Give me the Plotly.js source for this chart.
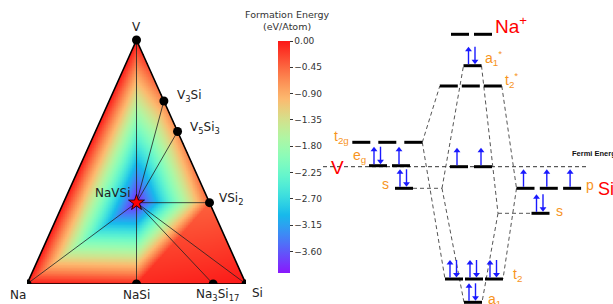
<!DOCTYPE html>
<html><head><meta charset="utf-8">
<script src="https://cdn.plot.ly/plotly-3.0.1.min.js"></script>
<style>html,body{margin:0;padding:0;background:#fff}#chart{width:613px;height:304px}</style>
</head><body><div id="chart"></div>
<script>
// ---------------- Ternary (Na-V-Si) phase diagram data ----------------
const phaseNames  = ['Na','V','Si','NaSi','Na3Si17','V3Si','V5Si3','VSi2','NaVSi'];
const phaseLabels = ['Na','V','Si','NaSi','Na<sub>3</sub>Si<sub>17</sub>','V<sub>3</sub>Si','V<sub>5</sub>Si<sub>3</sub>','VSi<sub>2</sub>','NaVSi'];
const fracNa = [1, 0, 0, 0.5, 0.15, 0, 0, 0, 1/3];
const fracV  = [0, 1, 0, 0, 0, 0.75, 0.625, 1/3, 1/3];
const fracSi = [0, 0, 1, 0.5, 0.85, 0.25, 0.375, 2/3, 1/3];
const formationEnergy = [0, 0, 0, -0.10, -0.04, -0.62, -0.66, -0.42, -3.97]; // eV/atom
const tieLineEnds = ['V','V3Si','V5Si3','VSi2','Si','Na3Si17','NaSi','Na']; // tie lines from NaVSi
const hullFacets = [['Na','V','NaVSi'],['V','V3Si','NaVSi'],['V3Si','V5Si3','NaVSi'],['V5Si3','VSi2','NaVSi'],
                    ['Na','NaSi','NaVSi'],['NaSi','VSi2','NaVSi'],['NaSi','Na3Si17','VSi2'],['Na3Si17','Si','VSi2']];
const colorbarTicks = [0, -0.45, -0.90, -1.35, -1.80, -2.25, -2.70, -3.15, -3.60];

// ---------------- Molecular-orbital level diagram data ----------------
// energies relative to the Fermi level (arbitrary units), column x in diagram units
const moLevelNames = ['Na+','a1*','t2*','t2g','eg','Vs','e','Sip','Sis','t2','a1'];
const moLevelX     = [14.15, 14.25, 14.08, 5.73, 5.95, 7.40, 14.10, 21.88, 21.05, 14.40, 14.30];
const moLevelE     = [13.24, 10.10, 8.07, 2.44, 0.10, -2.16, 0.00, -2.16, -4.66, -11.23, -13.56];
const moDegeneracy = [2, 1, 3, 3, 2, 1, 2, 3, 1, 3, 1];
const moElectrons  = [[0,0],[2],[0,0,0],[0,0,0],[2,1],[2],[1,1],[1,1,1],[2],[2,2,2],[2]];
const moExtension  = {Vs: 11.2, Sis: 16.8};   // dashed extension of atomic s levels
const moCorrelations = [['t2g','R','t2*','L'],['t2g','R','t2','L'],['Vs','R','Vs','X'],['Vs','X','a1*','L'],['Vs','X','a1','L'],
                        ['a1*','R','Sis','X'],['Sis','X','Sis','L'],['Sis','X','a1','R'],['t2*','R','Sip','L'],['Sip','L','t2','R']];
const fermiSpan = [-0.7, 25.8];

// ---------------- styles ----------------
const barPitch = {'t2g':2.6,'t2':2.0,'t2*':2.2,'Sip':2.33,'e':2.4};
const barHalf = 0.9;
const NARROW = 'Liberation Sans Narrow, Liberation Sans, Arial, sans-serif';
const ORANGE = '#f7941d';
const BLUE = '#1a1aff';

// ---------------- ternary geometry ----------------
const iOf = n => phaseNames.indexOf(n);
const tx = i => fracSi[i] + fracV[i] / 2;
const ty = i => fracV[i];

// gouraud shading of the hull facets
const N = 330;
const gx = [], gy = [];
for (let k = 0; k <= N; k++) { gx.push(k / N); gy.push(k / N); }
const z = gy.map(yv => gx.map(xv => {
  for (const f of hullFacets) {
    const [a, b, c] = f.map(iOf);
    const x1 = tx(a), y1 = ty(a), x2 = tx(b), y2 = ty(b), x3 = tx(c), y3 = ty(c);
    const det = (y2 - y3) * (x1 - x3) + (x3 - x2) * (y1 - y3);
    const l1 = ((y2 - y3) * (xv - x3) + (x3 - x2) * (yv - y3)) / det;
    const l2 = ((y3 - y1) * (xv - x3) + (x1 - x3) * (yv - y3)) / det;
    const l3 = 1 - l1 - l2;
    if (l1 >= -1e-9 && l2 >= -1e-9 && l3 >= -1e-9)
      return l1 * formationEnergy[a] + l2 * formationEnergy[b] + l3 * formationEnergy[c];
  }
  return null;
}));

// matplotlib "rainbow" colormap
const rainbow = [];
for (let k = 0; k <= 24; k++) {
  const t = k / 24;
  const r = Math.min(1, Math.abs(2 * t - 0.5)), g = Math.sin(Math.PI * t), b = Math.cos(Math.PI * t / 2);
  const m = v => Math.round(255 * (v * 0.9 + 0.09));
  rainbow.push([t, `rgb(${m(r)},${m(g)},${m(Math.max(0,b))})`]);
}

const traces = [];
traces.push({
  type: 'heatmap', x: gx, y: gy, z: z, xaxis: 'x', yaxis: 'y',
  zmin: Math.min(...formationEnergy), zmax: 0, colorscale: rainbow, zsmooth: false,
  hoverinfo: 'skip',
  colorbar: {thickness: 12, thicknessmode: 'pixels', len: 232 / 304, lenmode: 'fraction',
    x: 278 / 613, xanchor: 'left', xpad: 0, y: 1 - 41 / 304, yanchor: 'top', ypad: 0,
    outlinewidth: 0, tickvals: colorbarTicks, tickformat: '.2f', ticks: 'outside', ticklen: 3,
    tickwidth: 1, tickcolor: '#333', tickfont: {family: 'DejaVu Sans', size: 9, color: '#333'}}
});
// tie lines
const tlx = [], tly = [];
const c0 = iOf('NaVSi');
tieLineEnds.forEach(n => { const i = iOf(n); tlx.push(tx(c0), tx(i), null); tly.push(ty(c0), ty(i), null); });
traces.push({type: 'scatter', mode: 'lines', x: tlx, y: tly, xaxis: 'x', yaxis: 'y',
  line: {color: '#222', width: 0.8}, hoverinfo: 'skip'});
// outline
const corners = ['Na','V','Si','Na'].map(iOf);
traces.push({type: 'scatter', mode: 'lines', x: corners.map(tx), y: corners.map(ty), xaxis: 'x', yaxis: 'y',
  line: {color: '#000', width: 1.6}, hoverinfo: 'skip'});
// phase markers
const pts = phaseNames.map((n, i) => i).filter(i => phaseNames[i] !== 'NaVSi');
traces.push({type: 'scatter', mode: 'markers', x: pts.map(tx), y: pts.map(ty), xaxis: 'x', yaxis: 'y',
  marker: {color: '#000', size: 9}, cliponaxis: true, hoverinfo: 'skip'});
traces.push({type: 'scatter', mode: 'markers', x: [tx(c0)], y: [ty(c0)], xaxis: 'x', yaxis: 'y',
  marker: {color: '#ff0000', size: 12, symbol: 'star', line: {color: '#000', width: 0.8}}, hoverinfo: 'skip'});

// ---------------- MO diagram ----------------
const lvl = n => moLevelNames.indexOf(n);
const pitchOf = i => barPitch[moLevelNames[i]] || 2.3;
const barCenters = i => { const n = moDegeneracy[i], p = pitchOf(i);
  return Array.from({length: n}, (_, j) => moLevelX[i] + (j - (n - 1) / 2) * p); };
const endPt = (name, side) => { const i = lvl(name); const bc = barCenters(i);
  if (side === 'L') return [bc[0] - barHalf, moLevelE[i]];
  if (side === 'R') return [bc[bc.length - 1] + barHalf, moLevelE[i]];
  return [moExtension[name], moLevelE[i]]; };

const bx = [], by = [];
moLevelNames.forEach((n, i) => barCenters(i).forEach(c => { bx.push(c - barHalf, c + barHalf, null); by.push(moLevelE[i], moLevelE[i], null); }));
const dx = [], dy = [];
moCorrelations.forEach(([a, sa, b, sb]) => { const p = endPt(a, sa), q = endPt(b, sb); dx.push(p[0], q[0], null); dy.push(p[1], q[1], null); });
traces.push({type: 'scatter', mode: 'lines', x: dx, y: dy, xaxis: 'x2', yaxis: 'y2', cliponaxis: false,
  line: {color: '#555', width: 1, dash: '4px,3px'}, hoverinfo: 'skip'});
traces.push({type: 'scatter', mode: 'lines', x: fermiSpan, y: [0, 0], xaxis: 'x2', yaxis: 'y2', cliponaxis: false,
  line: {color: '#333', width: 1, dash: '4px,3px'}, hoverinfo: 'skip'});
traces.push({type: 'scatter', mode: 'lines', x: bx, y: by, xaxis: 'x2', yaxis: 'y2', cliponaxis: false,
  line: {color: '#000', width: 3}, hoverinfo: 'skip'});

// electron spin arrows: shafts + heads
const sx = [], sy = [], ux = [], uy = [], wx = [], wy = [];
const ARR_LO = 0.15, ARR_HI = 1.9, HEAD = 0.3;
moLevelNames.forEach((n, i) => barCenters(i).forEach((c, j) => {
  const e = moElectrons[i][j], E = moLevelE[i];
  const up = x => { sx.push(x, x, null); sy.push(E + ARR_LO, E + ARR_HI - HEAD, null); ux.push(x); uy.push(E + ARR_HI - HEAD); };
  const dn = x => { sx.push(x, x, null); sy.push(E + ARR_HI, E + ARR_LO + HEAD, null); wx.push(x); wy.push(E + ARR_LO + HEAD); };
  if (e === 2) { up(c - 0.4); dn(c + 0.25); }
  else if (e === 1) { up(c - 0.2); }
}));
traces.push({type: 'scatter', mode: 'lines', x: sx, y: sy, xaxis: 'x2', yaxis: 'y2', cliponaxis: false,
  line: {color: BLUE, width: 1.4}, hoverinfo: 'skip'});
traces.push({type: 'scatter', mode: 'markers', x: ux, y: uy, xaxis: 'x2', yaxis: 'y2', cliponaxis: false,
  marker: {symbol: 'triangle-up', size: 6, color: BLUE, line: {width: 0}}, hoverinfo: 'skip'});
traces.push({type: 'scatter', mode: 'markers', x: wx, y: wy, xaxis: 'x2', yaxis: 'y2', cliponaxis: false,
  marker: {symbol: 'triangle-down', size: 6, color: BLUE, line: {width: 0}}, hoverinfo: 'skip'});

const annotations = [];
// MO level labels
const moLabels = [
  ['Na+', 'R', 'Na<sup>+</sup>', '#ff0000', 19, 1, 9],
  ['a1*', 'R', 'a<sub>1</sub><sup>*</sup>', ORANGE, 14, 1, 8],
  ['t2*', 'R', 't<sub>2</sub><sup>*</sup>', ORANGE, 14, 1, 6],
  ['t2g', 'L', 't<sub>2g</sub>', ORANGE, 14, -1, 5],
  ['eg',  'L', 'e<sub>g</sub>', ORANGE, 14, -1, 10],
  ['Vs',  'L', 's', ORANGE, 14, -4, 4],
  ['Sip', 'R', 'p', ORANGE, 14, 3, 3],
  ['Sis', 'R', 's', ORANGE, 14, 4, 2],
  ['t2',  'R', 't<sub>2</sub>', ORANGE, 14, 8, 4],
  ['a1',  'R', 'a<sub>1</sub>', ORANGE, 14, 4, 2]
];
moLabels.forEach(([n, side, txt, col, sz, xs, ys]) => {
  const p = endPt(n, side);
  annotations.push({xref: 'x2', yref: 'y2', x: p[0], y: p[1], text: txt, showarrow: false,
    xanchor: side === 'L' ? 'right' : 'left', yanchor: 'middle', xshift: xs, yshift: ys,
    font: {family: NARROW, size: sz, color: col}});
});
annotations.push({xref: 'x2', yref: 'y2', x: 0.7, y: 0, text: 'V', showarrow: false, xanchor: 'center', yanchor: 'middle',
  yshift: -1, font: {family: NARROW, size: 19, color: '#ff0000'}});
annotations.push({xref: 'x2', yref: 'y2', x: 26.6, y: -2.16, text: 'Si', showarrow: false, xanchor: 'left', yanchor: 'middle',
  yshift: -1, font: {family: NARROW, size: 18, color: '#ff0000'}});
annotations.push({xref: 'x2', yref: 'y2', x: 24.0, y: 0, text: '<b>Fermi Energy</b>', showarrow: false, xanchor: 'left', yanchor: 'middle',
  yshift: 13, font: {family: NARROW, size: 7.5, color: '#111'}});

// ternary labels
const ternLabelStyle = {
  'V': ['center', 0, 13], 'V3Si': ['left', 11, 5], 'V5Si3': ['left', 10, 4], 'VSi2': ['left', 7, 4],
  'NaVSi': ['right', -4, 10], 'Na': ['center', -9, -11], 'NaSi': ['center', 0, -11],
  'Na3Si17': ['center', 4, -11], 'Si': ['left', 4, -9]
};
phaseNames.forEach((n, i) => {
  const s = ternLabelStyle[n];
  annotations.push({xref: 'x', yref: 'y', x: tx(i), y: ty(i), text: phaseLabels[i], showarrow: false,
    xanchor: s[0], yanchor: 'middle', xshift: s[1], yshift: s[2],
    font: {family: 'DejaVu Sans', size: 12, color: '#222'}});
});
annotations.push({xref: 'paper', yref: 'paper', x: 287 / 613, y: 1 - 21 / 304, text: 'Formation Energy<br>(eV/Atom)',
  showarrow: false, xanchor: 'center', yanchor: 'middle', font: {family: 'DejaVu Sans', size: 9.5, color: '#333'}});

const hidden = {visible: false, showgrid: false, zeroline: false, fixedrange: true};
const layout = {
  width: 613, height: 304, margin: {l: 0, r: 0, t: 0, b: 0},
  paper_bgcolor: '#fff', plot_bgcolor: 'rgba(0,0,0,0)', showlegend: false,
  xaxis: Object.assign({}, hidden, {domain: [27 / 613, 246 / 613], range: [0, 1], anchor: 'y'}),
  yaxis: Object.assign({}, hidden, {domain: [20 / 304, 274 / 304], range: [0, 254 / 244], anchor: 'x'}),
  xaxis2: Object.assign({}, hidden, {domain: [300 / 613, 1], range: [-3, 28.3], anchor: 'y2'}),
  yaxis2: Object.assign({}, hidden, {domain: [0, 1], range: [-13.73, 16.67], anchor: 'x2'}),
  annotations: annotations
};
Plotly.newPlot('chart', traces, layout, {displayModeBar: false, staticPlot: true});
</script>
</body></html>
